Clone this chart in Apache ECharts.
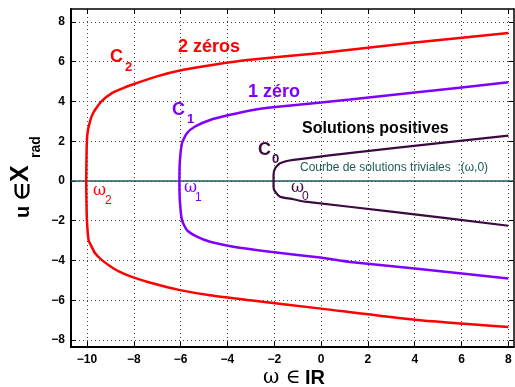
<!DOCTYPE html>
<html>
<head>
<meta charset="utf-8">
<script src="https://cdn.jsdelivr.net/npm/echarts@6/dist/echarts.min.js"></script>
<style>
  html, body { margin: 0; padding: 0; background: #fff; }
  #chart { width: 515px; height: 387px; }
</style>
</head>
<body>
<div id="chart"></div>
<script>
// axis limits and ticks
const xMin = -10.68
const xMax = 8.24
const yMin = -8.35
const yMax = 8.65
const xTicks = [-10, -8, -6, -4, -2, 0, 2, 4, 6, 8]
const yTicks = [-8, -6, -4, -2, 0, 2, 4, 6, 8]

// C2 : lower branch (right -> vertex) then upper branch (vertex -> right)
const c2Omega = [8, 4, 0, -3.03, -4.74, -6.02, -7.16, -8.08, -8.5, -8.86, -9.36, -9.65, -9.8, -9.93, -10.0, -10.02, -10.03,
  -10.02, -10.0, -9.95, -9.89, -9.8, -9.65, -9.36, -8.93, -8.5, -8.08, -7.01, -5.88, -4.59, -3.03, 0, 4, 8]
const c2U = [-7.34, -6.98, -6.42, -6.0, -5.75, -5.49, -5.16, -4.82, -4.62, -4.4, -3.98, -3.64, -3.3, -2.97, -1.97, -1, 0,
  1, 2.07, 2.6, 2.9, 3.25, 3.58, 4.03, 4.42, 4.65, 4.84, 5.26, 5.59, 5.85, 6.1, 6.44, 6.97, 7.44]

// C1
const c1Omega = [8, 4, 1.24, -0.04, -2.17, -3.74, -4.74, -5.3, -5.73, -5.94, -6.03, -6.05,
  -6.03, -5.94, -5.73, -5.38, -4.74, -3.88, -3.03, -2.17, 0, 1.24, 4, 8]
const c1U = [-4.9, -4.4, -4.07, -3.85, -3.56, -3.31, -3.06, -2.8, -2.47, -1.97, -1, 0,
  1, 1.9, 2.4, 2.74, 3.07, 3.33, 3.55, 3.7, 3.95, 4.1, 4.45, 4.96]

// C0
const c0Omega = [8, 3.09, -0.68, -1.18, -1.75, -1.96, -2.03, -2.03, -2.03, -1.96, -1.75, -1.18, 3.09, 8]
const c0U = [-2.25, -1.55, -1.04, -0.92, -0.79, -0.54, -0.3, 0, 0.3, 0.64, 0.89, 1.06, 1.65, 2.28]

// courbe de solutions triviales (omega, 0)
const trivialOmega = [xMin, xMax]
const trivialU = [0, 0]

const pairs = (xs, ys) => xs.map((x, i) => [x, ys[i]])
const minus = (v) => String(v).replace('-', '\u2212')

const chart = echarts.init(document.getElementById('chart'))

const dotted = { type: [1, 3], color: '#444', width: 1 }
const tickStyle = { inside: true, length: 5, lineStyle: { color: '#000', width: 1 } }
const labelStyle = { color: '#000', fontWeight: 'bold', fontSize: 12, fontFamily: 'Liberation Sans, Arial, sans-serif' }

function txt(x, y, text, font, color, extra) {
  return Object.assign({
    type: 'text', x: x, y: y, silent: true,
    style: { text: text, font: font, fill: color, align: 'left', verticalAlign: 'middle' },
  }, extra || {})
}

const bold = (s) => 'bold ' + s + 'px "Liberation Sans", Arial, sans-serif'
const plain = (s) => s + 'px "Liberation Sans", Arial, sans-serif'
const greek = (s) => s + 'px "DejaVu Serif", serif'

const red = '#ff0000'
const violet = '#8000ff'
const plum = '#3c0a40'
const teal = '#1d5b58'

chart.setOption({
  animation: false,
  backgroundColor: '#fff',
  grid: { left: 71, right: 1, top: 9, bottom: 40, show: false },
  xAxis: [
    {
      type: 'value', min: xMin, max: xMax, position: 'bottom',
      axisLine: { show: true, onZero: false, lineStyle: { color: '#000', width: 2 } },
      axisTick: Object.assign({ customValues: xTicks }, tickStyle),
      axisLabel: Object.assign({ customValues: xTicks, margin: 7, formatter: minus }, labelStyle),
      splitLine: { show: true, lineStyle: dotted },
    },
    {
      type: 'value', min: xMin, max: xMax, position: 'top',
      axisLine: { show: true, onZero: false, lineStyle: { color: '#000', width: 1.5 } },
      axisTick: Object.assign({ customValues: xTicks }, tickStyle),
      axisLabel: { show: false },
      splitLine: { show: false },
    },
  ],
  yAxis: [
    {
      type: 'value', min: yMin, max: yMax, position: 'left',
      axisLine: { show: true, onZero: false, lineStyle: { color: '#000', width: 2 } },
      axisTick: Object.assign({ customValues: yTicks }, tickStyle),
      axisLabel: Object.assign({ customValues: yTicks, margin: 6, formatter: minus }, labelStyle),
      splitLine: { show: true, lineStyle: dotted },
    },
    {
      type: 'value', min: yMin, max: yMax, position: 'right',
      axisLine: { show: true, onZero: false, lineStyle: { color: '#000', width: 1.5 } },
      axisTick: Object.assign({ customValues: yTicks }, tickStyle),
      axisLabel: { show: false },
      splitLine: { show: false },
    },
  ],
  series: [
    {
      name: 'trivial', type: 'line', data: pairs(trivialOmega, trivialU),
      showSymbol: false, lineStyle: { color: teal, width: 1.5 }, z: 1,
    },
    {
      name: 'C2', type: 'line', data: pairs(c2Omega, c2U), smooth: 0.2,
      showSymbol: false, lineStyle: { color: red, width: 2.5 },
    },
    {
      name: 'C1', type: 'line', data: pairs(c1Omega, c1U), smooth: 0.2,
      showSymbol: false, lineStyle: { color: violet, width: 2.5 },
    },
    {
      name: 'C0', type: 'line', data: pairs(c0Omega, c0U), smooth: 0.2,
      showSymbol: false, lineStyle: { color: plum, width: 2.2 },
    },
  ],
  graphic: [
    // curve labels
    txt(110, 57, 'C', bold(18), red), txt(125, 67, '2', bold(13), red),
    txt(178, 47, '2 zéros', bold(18), red),
    txt(172, 110, 'C', bold(18), violet), txt(187, 119, '1', bold(13), violet),
    txt(248, 92, '1 zéro', bold(18), violet),
    txt(258, 150, 'C', bold(18), plum), txt(272, 159, '0', bold(13), plum),
    txt(302, 129, 'Solutions positives', bold(16), '#000'),
    txt(300, 168, 'Courbe de solutions triviales  :(ω,0)', plain(12), teal),
    txt(93, 191, 'ω', greek(16), red), txt(105, 201, '2', plain(12), red),
    txt(184, 188, 'ω', greek(16), violet), txt(195, 198, '1', plain(12), violet),
    txt(291, 188, 'ω', greek(16), plum), txt(302, 197, '0', plain(12), plum),
    // x axis name
    txt(263, 378, 'ω ∈', greek(20), '#000'),
    txt(305, 378, 'IR', bold(20), '#000'),
    // y axis name, rotated
    txt(23, 218, 'u ∈', bold(20), '#000', { rotation: Math.PI / 2 }),
    txt(21, 182, 'X', bold(25), '#000', { rotation: Math.PI / 2 }),
    txt(36, 158, 'rad', bold(14), '#000', { rotation: Math.PI / 2 }),
  ],
})
</script>
</body>
</html>
